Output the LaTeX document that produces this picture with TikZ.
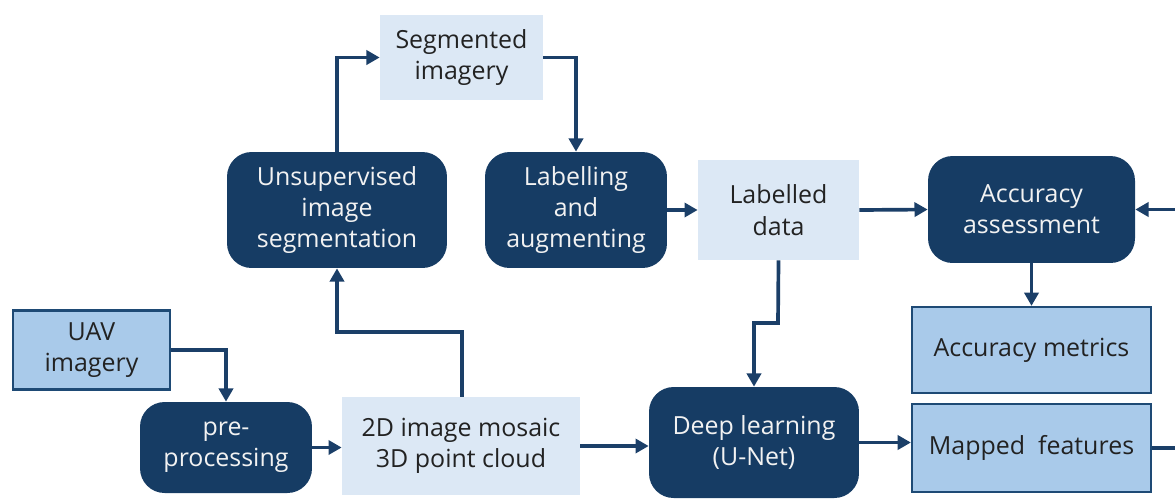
\documentclass[tikz,border=0pt]{standalone}
\usepackage{fontspec}
\setmainfont{Open Sans}
\usetikzlibrary{arrows.meta}
\definecolor{navy}{HTML}{163C64}
\definecolor{lightbox}{HTML}{DCE8F5}
\definecolor{midbox}{HTML}{A9CAEA}
\definecolor{midborder}{HTML}{1E4A75}
\definecolor{arrowc}{HTML}{1B3F68}
\definecolor{darktext}{HTML}{222222}
\definecolor{lighttext}{HTML}{F2F2F2}
\tikzset{
  base/.style={align=center, inner sep=0pt, font=\fontsize{14.2}{17.8}\selectfont},
  darkbox/.style={base, fill=navy, rounded corners=14pt, text=lighttext},
  lightbx/.style={base, fill=lightbox, text=darktext},
  midbx/.style={base, fill=midbox, draw=midborder, line width=1.3pt, text=darktext},
  conn/.style={draw=arrowc, line width=2.1pt, -{Triangle[length=7.5pt,width=8pt]}},
}
\begin{document}
\begin{tikzpicture}[x=0.02cm, y=-0.02cm]
\useasboundingbox (0,0) rectangle (1175,498);
\clip (0,0) rectangle (1175,498);
\node[midbx, minimum width=3.14cm, minimum height=1.58cm] (uav) at (91.5,350) {UAV\\imagery};
\node[darkbox, minimum width=3.44cm, minimum height=1.82cm] (pre) at (226,447.5) {pre-\\processing};
\node[lightbx, minimum width=4.76cm, minimum height=1.96cm] (mosaic) at (461,446) {2D image mosaic\\3D point cloud};
\node[darkbox, minimum width=4.4cm, minimum height=2.32cm] (unsup) at (337,210) {Unsupervised\\image\\segmentation};
\node[lightbx, minimum width=3.26cm, minimum height=1.7cm] (seg) at (461.5,57.5) {Segmented\\imagery};
\node[darkbox, minimum width=3.64cm, minimum height=2.32cm] (label) at (576,210) {Labelling\\and\\augmenting};
\node[lightbx, minimum width=3.22cm, minimum height=2.0cm] (ldata) at (778.5,210) {Labelled\\data};
\node[darkbox, minimum width=4.14cm, minimum height=2.14cm] (acc) at (1031.5,209.5) {Accuracy\\assessment};
\node[darkbox, minimum width=4.2cm, minimum height=2.22cm] (deep) at (754,442.5) {Deep learning\\(U-Net)};
\node[midbx, minimum width=4.78cm, minimum height=1.72cm] (metrics) at (1031.5,350) {Accuracy metrics};
\node[midbx, minimum width=4.78cm, minimum height=1.76cm] (mapped) at (1031.5,448) {Mapped\ \ features};

\coordinate (m1) at (462,332);
\coordinate (m2) at (337,332);
\coordinate (l1) at (778,323);
\coordinate (l2) at (754,323);
\coordinate (r1) at (1200,448);
\coordinate (r2) at (1200,209.5);

\path[conn] (uav.east) -| (pre.north);
\path[conn] (pre.east) -- (pre.east -| mosaic.west);
\path[conn] (mosaic.north -| m1) -- (m1) -- (m2) -- (unsup.south);
\path[conn] (unsup.north) |- (seg.west);
\path[conn] (seg.east) -| (label.north);
\path[conn] (label.east) -- (ldata.west);
\path[conn] (ldata.east) -- (acc.west);
\path[conn] (ldata.south) -- (l1) -- (l2) -- (deep.north);
\path[conn] (mosaic.east) -- (mosaic.east -| deep.west);
\path[conn] (deep.east) -- (deep.east -| mapped.west);
\path[conn] (acc.south) -- (metrics.north);
\path[conn] (mapped.east) -- (r1) -- (r2) -- (acc.east);
\end{tikzpicture}
\end{document}
